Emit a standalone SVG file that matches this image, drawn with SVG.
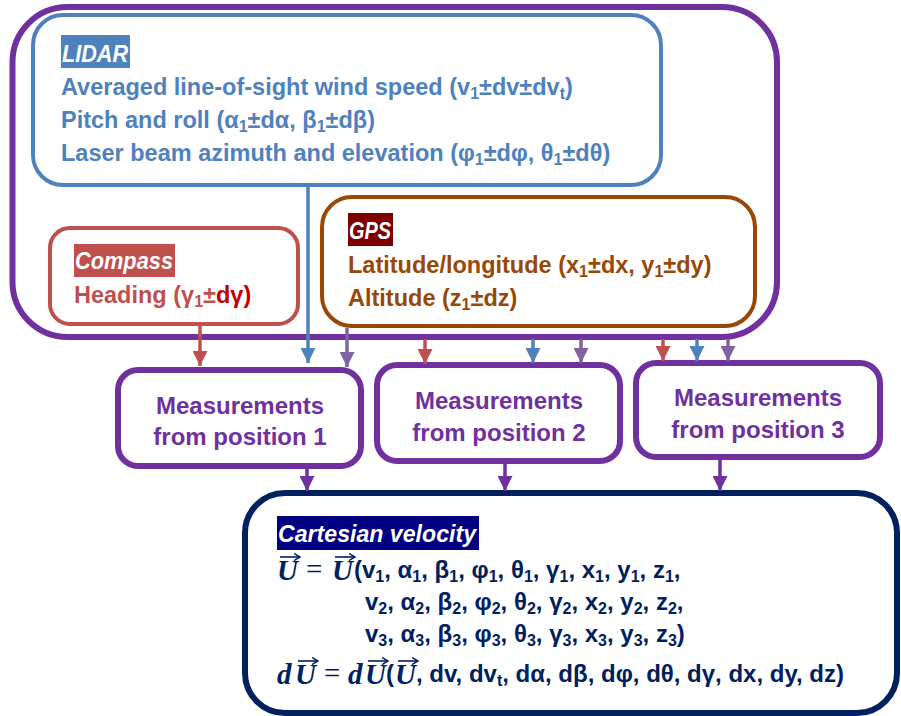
<svg xmlns="http://www.w3.org/2000/svg" width="901" height="716" viewBox="0 0 901 716">
<style>
text{font-family:"Liberation Sans",Arial,sans-serif;font-weight:bold;font-size:23.5px}
.s{font-size:16px;baseline-shift:-4px}
.ttl{font-style:italic;fill:#fff}
.lid{fill:#4F81BD}
.cmp{fill:#C0504D}
.gps{fill:#984807}
.mea{fill:#7030A0;text-anchor:middle;font-size:24px}
.eq{fill:#002060;font-size:24px}
.m{font-family:"Liberation Serif","Times New Roman",serif;font-style:italic;font-size:29px;fill:#002060}
.mr{font-family:"Liberation Serif","Times New Roman",serif;font-size:29px;fill:#002060;font-weight:normal}
.box{fill:#fff}
.con line{stroke-width:3.5}
.vec line{stroke:#002060;stroke-width:1.6}
</style>
<defs>
<marker id="aR" markerUnits="userSpaceOnUse" markerWidth="15" markerHeight="15" refX="15" refY="7.5" orient="auto"><path d="M0,0L15,7.5L0,15z" fill="#C0504D"/></marker>
<marker id="aB" markerUnits="userSpaceOnUse" markerWidth="15" markerHeight="15" refX="15" refY="7.5" orient="auto"><path d="M0,0L15,7.5L0,15z" fill="#4F81BD"/></marker>
<marker id="aL" markerUnits="userSpaceOnUse" markerWidth="15" markerHeight="15" refX="15" refY="7.5" orient="auto"><path d="M0,0L15,7.5L0,15z" fill="#8064A2"/></marker>
<marker id="aP" markerUnits="userSpaceOnUse" markerWidth="15" markerHeight="15" refX="15" refY="7.5" orient="auto"><path d="M0,0L15,7.5L0,15z" fill="#7030A0"/></marker>
<marker id="vh" markerUnits="userSpaceOnUse" markerWidth="7" markerHeight="8" refX="6" refY="4" orient="auto"><path d="M0,0.5L6,4L0,7.5" fill="none" stroke="#002060" stroke-width="1.5"/></marker>
</defs>

<g id="platform">
<rect x="12.5" y="7" width="764.5" height="330" rx="55" ry="55" fill="#fff" stroke="#7030A0" stroke-width="6"/>
</g>

<g id="lidar">
<rect x="33" y="15" width="628" height="170" rx="30" ry="30" class="box" stroke="#4F81BD" stroke-width="4"/>
<rect x="61" y="35" width="69" height="33" fill="#4F81BD"/>
<text x="62" y="62" class="ttl" font-size="24" textLength="66" lengthAdjust="spacingAndGlyphs">LIDAR</text>
<text x="61" y="95" class="lid">Averaged line-of-sight wind speed (v<tspan class="s">1</tspan>±dv±dv<tspan class="s">t</tspan>)</text>
<text x="61" y="128" class="lid">Pitch and roll (α<tspan class="s">1</tspan>±dα, β<tspan class="s">1</tspan>±dβ)</text>
<text x="61" y="161" class="lid">Laser beam azimuth and elevation (φ<tspan class="s">1</tspan>±dφ, θ<tspan class="s">1</tspan>±dθ)</text>
</g>

<g id="compass">
<rect x="50" y="228" width="248" height="96" rx="20" ry="20" class="box" stroke="#C0504D" stroke-width="4"/>
<rect x="74" y="244" width="101" height="33" fill="#C0504D"/>
<text x="75" y="269" class="ttl" font-size="23" textLength="98" lengthAdjust="spacingAndGlyphs">Compass</text>
<text x="74" y="303" class="cmp">Heading (γ<tspan class="s">1</tspan>±<tspan fill="#C00000">dγ)</tspan></text>
</g>

<g id="gps">
<rect x="322" y="197" width="433" height="129" rx="30" ry="30" class="box" stroke="#984807" stroke-width="4"/>
<rect x="348" y="213" width="45" height="33" fill="#7F0000"/>
<text x="349" y="239" class="ttl" font-size="22" textLength="42" lengthAdjust="spacingAndGlyphs">GPS</text>
<text x="348" y="273" class="gps">Latitude/longitude (x<tspan class="s">1</tspan>±dx, y<tspan class="s">1</tspan>±dy)</text>
<text x="348" y="306" class="gps">Altitude (z<tspan class="s">1</tspan>±dz)</text>
</g>

<g id="pos1">
<rect x="118" y="370" width="243" height="96" rx="20" ry="20" class="box" stroke="#7030A0" stroke-width="6"/>
<text x="240" y="414" class="mea">Measurements</text>
<text x="240" y="445" class="mea">from position 1</text>
</g>
<g id="pos2">
<rect x="377" y="365" width="243" height="96" rx="20" ry="20" class="box" stroke="#7030A0" stroke-width="6"/>
<text x="499" y="409" class="mea">Measurements</text>
<text x="499" y="441" class="mea">from position 2</text>
</g>
<g id="pos3">
<rect x="636" y="363" width="244" height="94" rx="20" ry="20" class="box" stroke="#7030A0" stroke-width="6"/>
<text x="758" y="406" class="mea">Measurements</text>
<text x="758" y="438" class="mea">from position 3</text>
</g>

<g id="cartesian">
<rect x="245" y="493" width="652" height="220" rx="40" ry="40" class="box" stroke="#002060" stroke-width="6"/>
<rect x="277" y="516" width="202" height="34" fill="#000080"/>
<text x="278" y="542" class="ttl" font-size="24" textLength="198" lengthAdjust="spacingAndGlyphs">Cartesian velocity</text>
<text x="277" y="580" class="m">U</text>
<text x="306" y="579" class="mr">=</text>
<text x="332" y="580" class="m">U</text>
<text x="354" y="578" class="eq">(v<tspan class="s">1</tspan>, α<tspan class="s">1</tspan>, β<tspan class="s">1</tspan>, φ<tspan class="s">1</tspan>, θ<tspan class="s">1</tspan>, γ<tspan class="s">1</tspan>, x<tspan class="s">1</tspan>, y<tspan class="s">1</tspan>, z<tspan class="s">1</tspan>,</text>
<text x="365" y="610" class="eq">v<tspan class="s">2</tspan>, α<tspan class="s">2</tspan>, β<tspan class="s">2</tspan>, φ<tspan class="s">2</tspan>, θ<tspan class="s">2</tspan>, γ<tspan class="s">2</tspan>, x<tspan class="s">2</tspan>, y<tspan class="s">2</tspan>, z<tspan class="s">2</tspan>,</text>
<text x="365" y="642" class="eq">v<tspan class="s">3</tspan>, α<tspan class="s">3</tspan>, β<tspan class="s">3</tspan>, φ<tspan class="s">3</tspan>, θ<tspan class="s">3</tspan>, γ<tspan class="s">3</tspan>, x<tspan class="s">3</tspan>, y<tspan class="s">3</tspan>, z<tspan class="s">3</tspan>)</text>
<text x="277" y="684" class="m">d</text>
<text x="295" y="684" class="m">U</text>
<text x="324" y="683" class="mr">=</text>
<text x="348" y="684" class="m">d</text>
<text x="365" y="684" class="m">U</text>
<text x="386" y="682" class="eq">(</text>
<text x="395" y="684" class="m">U</text>
<text x="416" y="682" class="eq">, dv, dv<tspan class="s">t</tspan>, dα, dβ, dφ, dθ, dγ, dx, dy, dz)</text>
<g class="vec" marker-end="url(#vh)">
<line x1="280" y1="557" x2="300" y2="557"/>
<line x1="335" y1="557" x2="355" y2="557"/>
<line x1="298" y1="661" x2="318" y2="661"/>
<line x1="368" y1="661" x2="388" y2="661"/>
<line x1="398" y1="661" x2="418" y2="661"/>
</g>
</g>

<g id="connectors" class="con">
<line x1="200" y1="326" x2="200" y2="366" stroke="#C0504D" marker-end="url(#aR)"/>
<line x1="308" y1="187" x2="308" y2="363" stroke="#4F81BD" marker-end="url(#aB)"/>
<line x1="347" y1="328" x2="347" y2="367" stroke="#8064A2" marker-end="url(#aL)"/>
<line x1="425" y1="339" x2="425" y2="364" stroke="#C0504D" marker-end="url(#aR)"/>
<line x1="533" y1="339" x2="533" y2="363" stroke="#4F81BD" marker-end="url(#aB)"/>
<line x1="581" y1="339" x2="581" y2="363" stroke="#8064A2" marker-end="url(#aL)"/>
<line x1="663" y1="339" x2="663" y2="361" stroke="#C0504D" marker-end="url(#aR)"/>
<line x1="697" y1="339" x2="697" y2="361" stroke="#4F81BD" marker-end="url(#aB)"/>
<line x1="728" y1="339" x2="728" y2="361" stroke="#8064A2" marker-end="url(#aL)"/>
<line x1="307" y1="469" x2="307" y2="491" stroke="#7030A0" marker-end="url(#aP)"/>
<line x1="505" y1="464" x2="505" y2="491" stroke="#7030A0" marker-end="url(#aP)"/>
<line x1="720" y1="460" x2="720" y2="491" stroke="#7030A0" marker-end="url(#aP)"/>
</g>
</svg>
